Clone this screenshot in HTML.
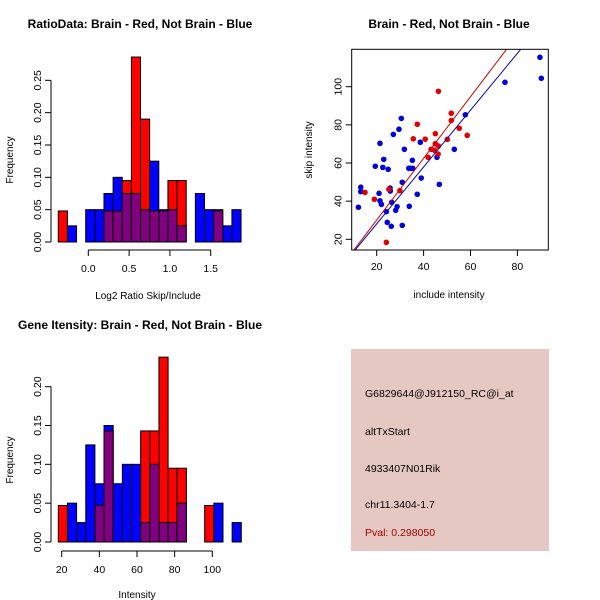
<!DOCTYPE html>
<html><head><meta charset="utf-8"><style>
body{margin:0;background:#fff}
svg{display:block;font-family:"Liberation Sans",sans-serif}
</style></head><body>
<svg id="c" width="600" height="600" viewBox="0 0 600 600">
<rect width="600" height="600" fill="#fff"/>
<text x="140" y="28" font-size="12" font-weight="bold" text-anchor="middle">RatioData: Brain - Red, Not Brain - Blue</text>
<text x="449" y="28" font-size="12" font-weight="bold" text-anchor="middle">Brain - Red, Not Brain - Blue</text>
<text x="140" y="329" font-size="12" font-weight="bold" text-anchor="middle">Gene Itensity: Brain - Red, Not Brain - Blue</text>
<text x="148" y="299" font-size="10" text-anchor="middle">Log2 Ratio Skip/Include</text>
<text transform="translate(13,160) rotate(-90)" font-size="10" text-anchor="middle">Frequency</text>
<text x="137" y="598" font-size="10" text-anchor="middle">Intensity</text>
<text transform="translate(13,460) rotate(-90)" font-size="10" text-anchor="middle">Frequency</text>
<text x="449" y="298" font-size="10" text-anchor="middle">include intensity</text>
<text transform="translate(312,150) rotate(-90)" font-size="10" text-anchor="middle">skip intensity</text>
<g>
<rect x="351" y="349" width="198" height="202" fill="#e6c8c2"/>
<text x="365" y="397" font-size="10.5">G6829644@J912150_RC@i_at</text>
<text x="365" y="435" font-size="10.5">altTxStart</text>
<text x="365" y="472" font-size="10.5">4933407N01Rik</text>
<text x="365" y="508" font-size="10.5">chr11.3404-1.7</text>
<text x="365" y="536" font-size="10.5" fill="#a00000">Pval: 0.298050</text>
</g>
</svg>
<script>
// Ratio histogram data
const ratioStart = -0.368, ratioWidth = 0.112;
const ratioRed  = [0.048,0,0,0,0,0.048,0.048,0.095,0.286,0.190,0.048,0.048,0.095,0.095,0,0,0,0.048,0,0];
const ratioBlue = [0,0.025,0,0.05,0.05,0.075,0.10,0.075,0.075,0.05,0.125,0.05,0.05,0.025,0,0.075,0.05,0.05,0.025,0.05];
const ratioXTicks = [0.0,0.5,1.0,1.5];
const ratioXTickLabels = ["0.0","0.5","1.0","1.5"];
const ratioYTicks = [0,0.05,0.10,0.15,0.20,0.25];
const ratioYTickLabels = ["0.00","0.05","0.10","0.15","0.20","0.25"];
// Intensity histogram data
const intStart = 18.2, intWidth = 4.86;
const intRed  = [0.047,0,0,0,0.047,0.143,0,0,0,0.143,0.143,0.238,0.095,0.095,0,0,0.047,0,0,0];
const intBlue = [0,0.05,0.025,0.125,0.075,0.15,0.075,0.10,0.10,0.025,0.10,0.025,0.025,0.05,0,0,0,0.05,0,0.025];
const intXTicks = [20,40,60,80,100];
const intXTickLabels = ["20","40","60","80","100"];
const intYTicks = [0,0.05,0.10,0.15,0.20];
const intYTickLabels = ["0.00","0.05","0.10","0.15","0.20"];
// Scatter data
const blueX = [89.6,90.2,74.7,57.8,30.5,29.5,27.1,38.6,31.8,21.4,53.1,23.0,19.4,22.6,24.9,33.7,35.4,34.3,35.2,45.7,39.0,30.9,46.7,25.7,25.8,13.2,13.2,21.0,37.3,21.4,22.0,26.4,28.7,33.9,24.1,28.1,12.2,24.5,26.2,30.9];
const blueY = [115.4,104.4,102.3,85.3,83.4,77.7,75.0,70.9,67.2,70.3,67.2,61.9,58.3,57.7,56.7,57.2,57.2,57.2,61.4,63.0,52.1,49.9,48.8,46.9,45.3,47.3,45.0,44.1,43.6,40.2,38.3,39.4,37.1,37.3,34.5,35.2,36.8,28.9,26.8,27.3];
const redX = [46.3,51.8,51.8,55.2,58.6,37.3,35.6,40.7,45.0,50.1,41.9,43.2,44.6,45.0,46.3,46.2,15.0,19.0,25.2,29.9,24.1];
const redY = [97.6,86.1,82.3,78.2,74.5,80.3,72.7,72.5,75.4,72.4,63.0,67.2,66.7,70.1,68.9,64.7,44.6,41.0,46.2,45.5,18.4];
const redFit = [-2.2,1.616];
const blueFit = [-1.7,1.49];
const scXTicks = [20,40,60,80];
const scXTickLabels = ["20","40","60","80"];
const scYTicks = [20,40,60,80,100];
const scYTickLabels = ["20","40","60","80","100"];

const svg = document.getElementById('c');
const NS = 'http://www.w3.org/2000/svg';
function mk(tag, attrs, parent){const e=document.createElementNS(NS,tag);for(const k in attrs)e.setAttribute(k,attrs[k]);(parent||svg).appendChild(e);return e;}

function histogram(cfg){
  const g = mk('g',{});
  
  
  const xs = v => cfg.x0 + (v - cfg.xd0) * cfg.xk;
  const ys = v => cfg.y0 - v * cfg.yk;
  cfg.red.forEach((r,i)=>{
    const b = cfg.blue[i];
    const xa = xs(cfg.start + i*cfg.width), xb = xs(cfg.start + (i+1)*cfg.width);
    const layers = [];
    if (r>b) { layers.push([r,'#ff0000','red']); if(b>0) layers.push([b,'#800080','overlap']); }
    else { if(b>0) layers.push([b,'#0000ff','blue']); if(r>0) layers.push([r,'#800080','overlap']); }
    layers.forEach(L=>{
      const rc = mk('rect',{x:xa,y:ys(L[0]),width:xb-xa,height:ys(0)-ys(L[0]),fill:L[1],stroke:'#000','stroke-width':1},g);
      
      
    });
  });
  // y axis
  const ya = mk('g',{},g);
  
  
  mk('line',{x1:cfg.yAxisX,x2:cfg.yAxisX,y1:ys(cfg.yTicks[0]),y2:ys(cfg.yTicks[cfg.yTicks.length-1]),stroke:'#000'},ya);
  cfg.yTicks.forEach((t,i)=>{
    mk('line',{x1:cfg.yAxisX-6,x2:cfg.yAxisX,y1:ys(t),y2:ys(t),stroke:'#000'},ya);
    const tx = mk('text',{transform:`translate(${cfg.yAxisX-10},${ys(t)}) rotate(-90)`,'font-size':10.5,'text-anchor':'middle'},ya);
    tx.textContent = cfg.yLabels[i];
  });
  const xa = mk('g',{},g);
  
  
  mk('line',{x1:xs(cfg.xTicks[0]),x2:xs(cfg.xTicks[cfg.xTicks.length-1]),y1:cfg.xAxisY,y2:cfg.xAxisY,stroke:'#000'},xa);
  cfg.xTicks.forEach((t,i)=>{
    mk('line',{x1:xs(t),x2:xs(t),y1:cfg.xAxisY,y2:cfg.xAxisY+6,stroke:'#000'},xa);
    const tx = mk('text',{x:xs(t),y:cfg.xAxisY+22,'font-size':10.5,'text-anchor':'middle'},xa);
    tx.textContent = cfg.xLabels[i];
  });
}
histogram({name:'ratio-histogram',start:ratioStart,width:ratioWidth,red:ratioRed,blue:ratioBlue,
  x0:88.3,xd0:0,xk:81.6,y0:242,yk:646.7,yAxisX:51,xAxisY:250,
  xTicks:ratioXTicks,xLabels:ratioXTickLabels,yTicks:ratioYTicks,yLabels:ratioYTickLabels});
histogram({name:'intensity-histogram',start:intStart,width:intWidth,red:intRed,blue:intBlue,
  x0:61.7,xd0:20,xk:1.8825,y0:542,yk:776.7,yAxisX:51,xAxisY:551,
  xTicks:intXTicks,xLabels:intXTickLabels,yTicks:intYTicks,yLabels:intYTickLabels});

// Scatter
(function(){
  const L=351.7,R=548.3,T=49.3,B=250;
  const sx = v => 376.7 + (v-20)*2.345;
  const sy = v => 239.3 - (v-20)*1.9075;
  const g = mk('g',{});
  
  
  const clip = mk('clipPath',{id:'scclip'},g);
  mk('rect',{x:L,y:T,width:R-L,height:B-T},clip);
  const pts = mk('g',{'clip-path':'url(#scclip)'},g);
  blueX.forEach((x,i)=>{
    const c = mk('circle',{cx:sx(x),cy:sy(blueY[i]),r:2.8,fill:'#0000dd'},pts);
    
    
  });
  redX.forEach((x,i)=>{
    const c = mk('circle',{cx:sx(x),cy:sy(redY[i]),r:2.8,fill:'#e00000'},pts);
    
    
  });
  [[redFit,'#cc0000','fit-line-brain'],[blueFit,'#0000aa','fit-line-not-brain']].forEach(f=>{
    const x1=5,x2=100;
    const ln = mk('line',{x1:sx(x1),y1:sy(f[0][0]+f[0][1]*x1),x2:sx(x2),y2:sy(f[0][0]+f[0][1]*x2),stroke:f[1],'stroke-width':1},pts);
    
    
  });
  mk('rect',{x:L,y:T,width:R-L,height:B-T,fill:'none',stroke:'#000'},g);
  scXTicks.forEach((t,i)=>{
    mk('line',{x1:sx(t),x2:sx(t),y1:B,y2:B+6,stroke:'#000'},g);
    const tx = mk('text',{x:sx(t),y:B+20,'font-size':10.5,'text-anchor':'middle'},g);
    tx.textContent = scXTickLabels[i];
  });
  scYTicks.forEach((t,i)=>{
    mk('line',{x1:L-6,x2:L,y1:sy(t),y2:sy(t),stroke:'#000'},g);
    const tx = mk('text',{transform:`translate(${L-10},${sy(t)}) rotate(-90)`,'font-size':10.5,'text-anchor':'middle'},g);
    tx.textContent = scYTickLabels[i];
  });
})();
</script>
</body></html>
